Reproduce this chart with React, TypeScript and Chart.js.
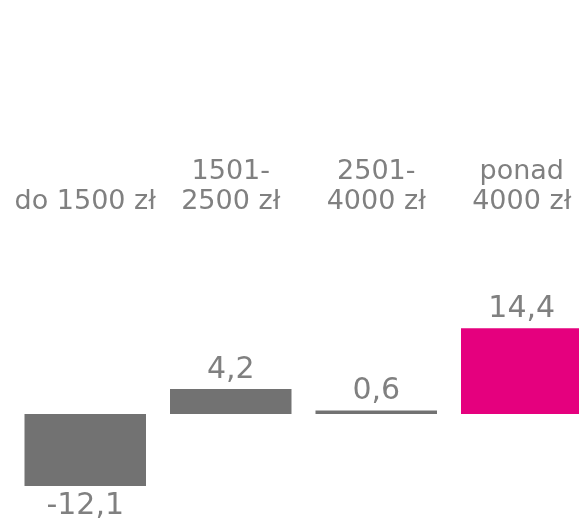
import React, { useEffect, useRef } from "react";
import { Chart, registerables } from "chart.js";

Chart.register(...registerables);

const categories: string[][] = [["do 1500 zł"], ["1501-", "2500 zł"], ["2501-", "4000 zł"], ["ponad", "4000 zł"]];
const values: number[] = [-12.1, 4.2, 0.6, 14.4];
const barColors: string[] = ["#727272", "#727272", "#727272", "#e5007e"];

const FONT = "'DejaVu Sans', Verdana, sans-serif";
const TEXT = "#808080";

const valueLabels = {
  id: "valueLabels",
  afterDatasetsDraw(chart: any) {
    const ctx = chart.ctx;
    const meta = chart.getDatasetMeta(0);
    ctx.save();
    ctx.font = `30px ${FONT}`;
    ctx.fillStyle = TEXT;
    ctx.textAlign = "center";
    ctx.textBaseline = "alphabetic";
    meta.data.forEach((bar: any, i: number) => {
      const v = values[i];
      const txt = v.toFixed(1).replace(".", ",");
      if (v >= 0) ctx.fillText(txt, bar.x, bar.y - 11);
      else ctx.fillText(txt, bar.x, bar.y + 28);
    });
    ctx.restore();
  },
};

export default function App() {
  const ref = useRef<HTMLCanvasElement>(null);
  useEffect(() => {
    const chart = new Chart(ref.current!, {
      type: "bar",
      data: {
        labels: categories,
        datasets: [{ data: values, backgroundColor: barColors, borderWidth: 0, categoryPercentage: 1, barPercentage: 0.835 }],
      },
      options: {
        animation: false,
        responsive: false,
        devicePixelRatio: 1,
        layout: { padding: { left: 12.5, right: 0.5, top: 0, bottom: 14.7 } },
        plugins: { legend: { display: false }, tooltip: { enabled: false } },
        scales: {
          x: {
            position: "top",
            grid: { display: false, drawTicks: false },
            border: { display: false },
            ticks: { color: TEXT, font: { family: FONT, size: 27, lineHeight: 1.11 }, padding: 19, maxRotation: 0, autoSkip: false },
            afterFit: (s: any) => { s.height = 235.5; s.paddingLeft = 0; s.paddingRight = 0; },
          },
          y: { display: false, min: -15, max: 30 },
        },
      },
      plugins: [valueLabels],
    });
    return () => chart.destroy();
  }, []);
  return (
    <div style={{ position: "fixed", left: 0, top: 0, width: 579, height: 518, overflow: "hidden", background: "#fff" }}>
      <canvas ref={ref} width={595} height={518} style={{ display: "block" }} />
    </div>
  );
}
